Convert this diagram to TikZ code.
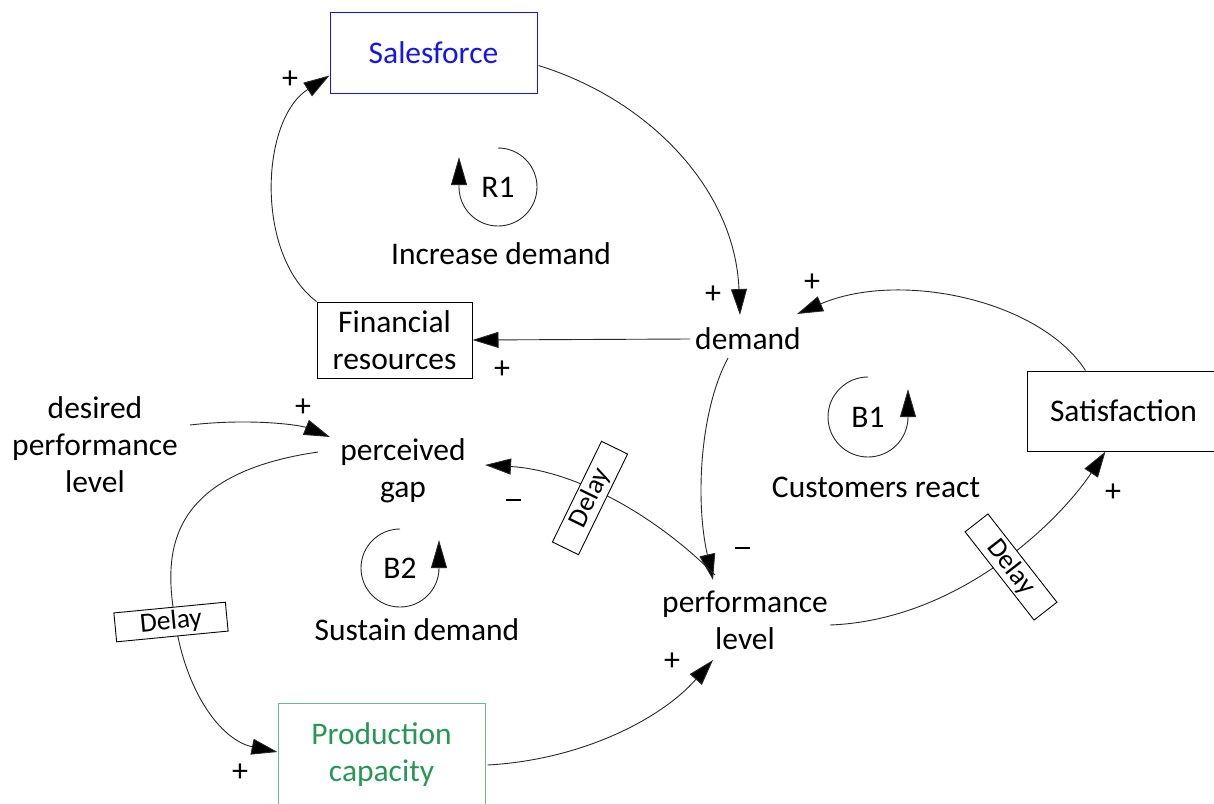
\documentclass[tikz,border=0pt]{standalone}
\usepackage{fontspec}
\setmainfont{Carlito}
\usetikzlibrary{arrows.meta,calc}
\definecolor{sfblue}{RGB}{20,20,235}
\definecolor{pcgreen}{RGB}{40,150,85}
\definecolor{pcborder}{RGB}{110,185,140}
\definecolor{ln}{RGB}{40,40,40}
\begin{document}
\begin{tikzpicture}[x=1pt,y=-1pt, font=\fontsize{31.5}{37}\selectfont,
  lbl/.style={align=center, inner sep=0},
  box/.style={draw, line width=1pt, align=center, inner sep=0},
  link/.style={draw=ln, line width=0.9pt, -{Triangle[length=26pt,width=16pt,fill=black]}},
  sgn/.style={font=\fontsize{32}{34}\selectfont, inner sep=0},
  delaybox/.style={draw, fill=white, line width=0.9pt, minimum width=112pt, minimum height=29pt, inner sep=0, font=\fontsize{27.5}{30}\selectfont},
  loopar/.style={draw=ln, line width=0.9pt, -{Triangle[length=28pt,width=16pt,fill=black]}}]
\useasboundingbox (0,0) rectangle (1214,803);

% boxes
\node[box, draw=sfblue, text=sfblue, minimum width=207pt, minimum height=81pt] (sales) at (433.5,52.5) {Salesforce};
\node[box, minimum width=155pt, minimum height=76pt] (fin) at (394.5,340) {Financial\\resources};
\node[box, minimum width=193pt, minimum height=80pt] (sat) at (1123.5,411) {Satisfaction};
\node[box, draw=pcborder, text=pcgreen, minimum width=207pt, minimum height=104pt] (prod) at (381.5,755) {Production\\capacity};

% variables
\node[lbl] (demand) at (748,339) {demand};
\node[lbl] (desired) at (95,445) {desired\\performance\\level};
\node[lbl] (gap) at (403,471) {perceived\\gap};
\node[lbl] (perf) at (745,620) {performance\\level};

% loop labels
\node[lbl] (r1) at (498,187) {R1};
\node[lbl] (b1) at (868,417) {B1};
\node[lbl] (b2) at (400,568) {B2};
\node[lbl] (r1t) at (501,254) {Increase demand};
\node[lbl] (b1t) at (876,487) {Customers react};
\node[lbl] (b2t) at (417,630) {Sustain demand};

% loop symbols
\draw[loopar] ($(r1)+(0,-39)$) arc[start angle=-90,end angle=180,radius=39] -- ++(0,-30);
\draw[loopar] ($(b1)+(0,-40)$) arc[start angle=-90,end angle=-360,radius=40] -- ++(0,-28);
\draw[loopar] ($(b2)+(0,-39)$) arc[start angle=-90,end angle=-360,radius=39] -- ++(0,-28);

% connectors
\draw[link] (fin.north west) .. controls (255,255) and (260,120) .. ($(sales.west)+(0,23)$);
\draw[link] ($(sales.east)+(1,13)$) .. controls (650,100) and (735,190) .. ($(demand)+(-8,-24)$);
\draw[link] ($(demand)+(-58,0)$) -- (fin.east);
\draw[link] ($(sat.north)+(-38,0)$) .. controls (1040,300) and (900,270) .. ($(demand)+(49,-25)$);
\draw[link] ($(demand)+(-20,19)$) .. controls (700,410) and (695,500) .. ($(perf)+(-32,-40)$);
\draw[link] ($(perf)+(-30,-45)$) .. controls (650,510) and (570,470) .. ($(gap)+(82,-6)$);
\draw[link] ($(perf)+(85,5)$) .. controls (960,620) and (1060,520) .. ($(sat.south)+(-18,0)$);
\draw[link] ($(prod.east)+(2,10)$) .. controls (580,760) and (660,720) .. ($(perf)+(-32,40)$);
\draw[link] ($(desired)+(95,-20)$) .. controls (250,418) and (300,425) .. ($(gap)+(-73,-34)$);
\draw[link] ($(gap)+(-85,-19)$) .. controls (160,475) and (165,560) .. (175,620) .. controls (185,690) and (220,740) .. ($(prod.west)+(0,-3)$);

% delay boxes
\node[delaybox, rotate=64] (d1) at (590,498) {Delay};
\node[delaybox, rotate=-52] (d2) at (1011,567) {Delay};
\node[delaybox, rotate=5.5] (d3) at (171,622) {Delay};

% polarity signs
\node[sgn] (p1) at (290,80) {+};
\node[sgn] (p2) at (713,295) {+};
\node[sgn] (p3) at (502,370) {+};
\node[sgn] (p4) at (812,283) {+};
\node[sgn] (p5) at (303,408) {+};
\node[sgn] (p6) at (1113,493) {+};
\node[sgn] (p7) at (672,662) {+};
\node[sgn] (p8) at (240,773) {+};
\node[sgn] (m1) at (513,500) {\rule{15pt}{2.4pt}};
\node[sgn] (m2) at (742,548) {\rule{15pt}{2.4pt}};
\end{tikzpicture}
\end{document}
